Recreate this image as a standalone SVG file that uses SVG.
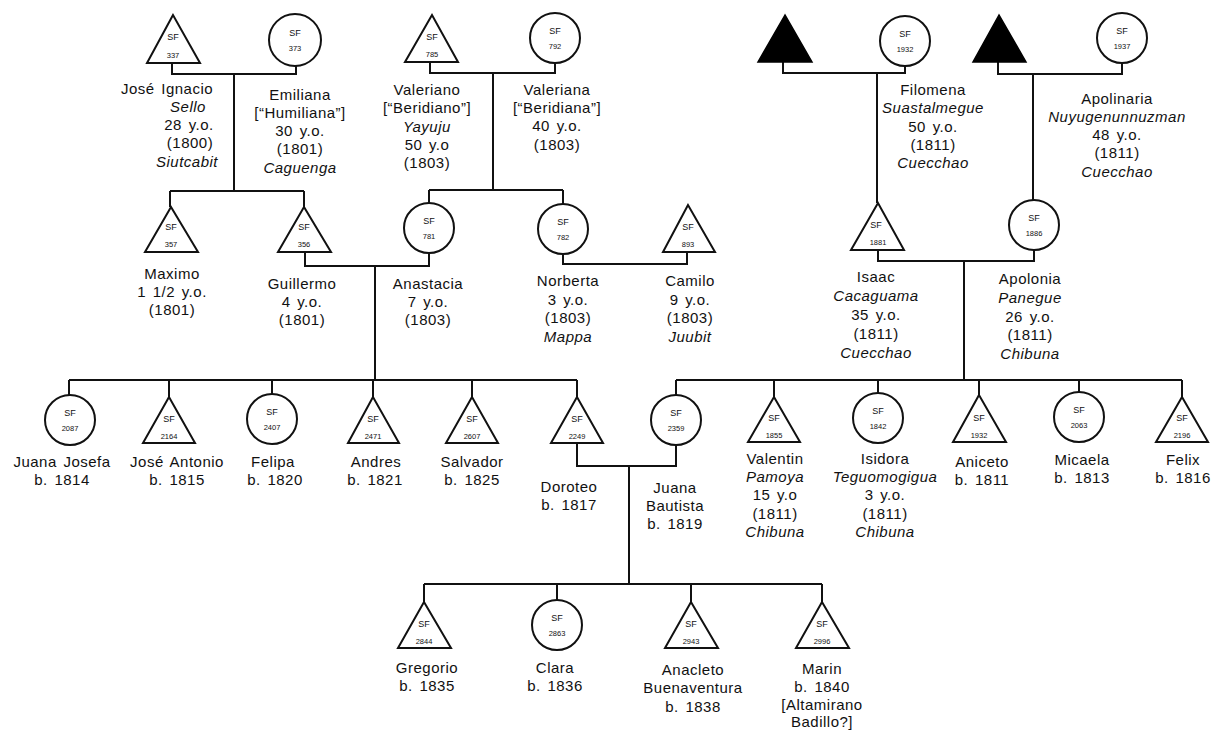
<svg xmlns="http://www.w3.org/2000/svg" width="1214" height="731" viewBox="0 0 1214 731">
<style>
.bg{fill:#fff}
.sh{fill:#fff;stroke:#111;stroke-width:2}
.bk{fill:#000;stroke:#000;stroke-width:1.5}
.ln{fill:none;stroke:#111;stroke-width:2}
text{font-family:"Liberation Sans",Arial,sans-serif;fill:#111;text-anchor:middle}
.t{font-size:15px;letter-spacing:0.5px;word-spacing:2px}
.i{font-style:italic}
.s{font-size:9px}
.n{font-size:7.5px}
</style>
<rect class="bg" x="0" y="0" width="1214" height="731"/>
<g id="connectors">
<path class="ln" d="M172,63 V74 H296 V66 M234,74 V191 M170,191 H304 M170,191 V207 M304,191 V207"/>
<path class="ln" d="M430,62 V73 H555 V63 M493,73 V190 M429,190 H563 M429,190 V203 M563,190 V204"/>
<path class="ln" d="M783,62 V73 H905 V66 M877,73 V203"/>
<path class="ln" d="M998,62 V74 H1122 V63 M1033,74 V200"/>
<path class="ln" d="M305,252 V266 H429 V253 M375,266 V380"/>
<path class="ln" d="M563,254 V264 H687 V252"/>
<path class="ln" d="M878,250 V261 H1034 V250 M964,261 V380"/>
<path class="ln" d="M69,380 H577 M69,380 V395 M169,380 V397 M272,380 V394 M373,380 V397 M472,380 V397 M577,380 V397"/>
<path class="ln" d="M676,380 H1182 M676,380 V395 M774,380 V397 M878,380 V393 M979,380 V395 M1079,380 V392 M1182,380 V397"/>
<path class="ln" d="M577,443 V466 H676 V445 M629,466 V584"/>
<path class="ln" d="M424,584 H822 M424,584 V602 M557,584 V600 M691,584 V602 M822,584 V602"/>
</g>
<g id="n337"><polygon class="sh" points="173,15 147,63 200,63"/><text class="s" x="173" y="40">SF</text><text class="n" x="173" y="58">337</text>
<text class="t"><tspan x="167" y="94">José Ignacio</tspan><tspan x="188" y="112" class="i">Sello</tspan><tspan x="189" y="130">28 y.o.</tspan><tspan x="190" y="148">(1800)</tspan><tspan x="187" y="167" class="i">Siutcabit</tspan></text></g>
<g id="n373"><circle class="sh" cx="295" cy="40" r="26"/><text class="s" x="295" y="36">SF</text><text class="n" x="295" y="51">373</text>
<text class="t"><tspan x="300" y="100">Emiliana</tspan><tspan x="300" y="118">[“Humiliana”]</tspan><tspan x="300" y="136">30 y.o.</tspan><tspan x="300" y="154">(1801)</tspan><tspan x="300" y="173" class="i">Caguenga</tspan></text></g>
<g id="n785"><polygon class="sh" points="432,15 405,62 458,62"/><text class="s" x="432" y="40">SF</text><text class="n" x="432" y="57">785</text>
<text class="t"><tspan x="427" y="95">Valeriano</tspan><tspan x="427" y="113">[“Beridiano”]</tspan><tspan x="427" y="132" class="i">Yayuju</tspan><tspan x="427" y="150">50 y.o</tspan><tspan x="427" y="168">(1803)</tspan></text></g>
<g id="n792"><circle class="sh" cx="555" cy="38" r="25"/><text class="s" x="555" y="34">SF</text><text class="n" x="555" y="49">792</text>
<text class="t"><tspan x="557" y="95">Valeriana</tspan><tspan x="557" y="113">[“Beridiana”]</tspan><tspan x="557" y="131">40 y.o.</tspan><tspan x="557" y="150">(1803)</tspan></text></g>
<g id="nblackL"><polygon class="bk" points="785,15 758,62 812,62"/></g>
<g id="n1932"><circle class="sh" cx="905" cy="41" r="25"/><text class="s" x="905" y="37">SF</text><text class="n" x="905" y="52">1932</text>
<text class="t"><tspan x="933" y="95">Filomena</tspan><tspan x="933" y="113" class="i">Suastalmegue</tspan><tspan x="933" y="132">50 y.o.</tspan><tspan x="933" y="150">(1811)</tspan><tspan x="933" y="168" class="i">Cuecchao</tspan></text></g>
<g id="nblackR"><polygon class="bk" points="999,15 973,62 1026,62"/></g>
<g id="n1937"><circle class="sh" cx="1122" cy="38" r="25"/><text class="s" x="1122" y="34">SF</text><text class="n" x="1122" y="49">1937</text>
<text class="t"><tspan x="1117" y="104">Apolinaria</tspan><tspan x="1117" y="122" class="i">Nuyugenunnuzman</tspan><tspan x="1117" y="140">48 y.o.</tspan><tspan x="1117" y="158">(1811)</tspan><tspan x="1117" y="177" class="i">Cuecchao</tspan></text></g>
<g id="n357"><polygon class="sh" points="171,207 145,252 198,252"/><text class="s" x="171" y="230">SF</text><text class="n" x="171" y="247">357</text>
<text class="t"><tspan x="172" y="279">Maximo</tspan><tspan x="172" y="297">1 1/2 y.o.</tspan><tspan x="172" y="315">(1801)</tspan></text></g>
<g id="n356"><polygon class="sh" points="304,207 278,252 331,252"/><text class="s" x="304" y="230">SF</text><text class="n" x="304" y="247">356</text>
<text class="t"><tspan x="302" y="289">Guillermo</tspan><tspan x="302" y="307">4 y.o.</tspan><tspan x="302" y="325">(1801)</tspan></text></g>
<g id="n781"><circle class="sh" cx="429" cy="228" r="25"/><text class="s" x="429" y="224">SF</text><text class="n" x="429" y="239">781</text>
<text class="t"><tspan x="428" y="289">Anastacia</tspan><tspan x="428" y="307">7 y.o.</tspan><tspan x="428" y="325">(1803)</tspan></text></g>
<g id="n782"><circle class="sh" cx="563" cy="229" r="25"/><text class="s" x="563" y="225">SF</text><text class="n" x="563" y="240">782</text>
<text class="t"><tspan x="568" y="286">Norberta</tspan><tspan x="568" y="305">3 y.o.</tspan><tspan x="568" y="323">(1803)</tspan><tspan x="568" y="342" class="i">Mappa</tspan></text></g>
<g id="n893"><polygon class="sh" points="688,205 663,252 715,252"/><text class="s" x="688" y="230">SF</text><text class="n" x="688" y="247">893</text>
<text class="t"><tspan x="690" y="286">Camilo</tspan><tspan x="690" y="305">9 y.o.</tspan><tspan x="690" y="323">(1803)</tspan><tspan x="690" y="342" class="i">Juubit</tspan></text></g>
<g id="n1881"><polygon class="sh" points="878,203 851,250 904,250"/><text class="s" x="876" y="228">SF</text><text class="n" x="878" y="245">1881</text>
<text class="t"><tspan x="876" y="282">Isaac</tspan><tspan x="876" y="301" class="i">Cacaguama</tspan><tspan x="876" y="320">35 y.o.</tspan><tspan x="876" y="339">(1811)</tspan><tspan x="876" y="358" class="i">Cuecchao</tspan></text></g>
<g id="n1886"><circle class="sh" cx="1034" cy="225" r="25"/><text class="s" x="1034" y="221">SF</text><text class="n" x="1034" y="236">1886</text>
<text class="t"><tspan x="1030" y="284">Apolonia</tspan><tspan x="1030" y="303" class="i">Panegue</tspan><tspan x="1030" y="322">26 y.o.</tspan><tspan x="1030" y="340">(1811)</tspan><tspan x="1030" y="359" class="i">Chibuna</tspan></text></g>
<g id="n2087"><circle class="sh" cx="70" cy="420" r="25"/><text class="s" x="70" y="416">SF</text><text class="n" x="70" y="431">2087</text>
<text class="t"><tspan x="62" y="467">Juana Josefa</tspan><tspan x="62" y="485">b. 1814</tspan></text></g>
<g id="n2164"><polygon class="sh" points="169,397 143,443 195,443"/><text class="s" x="169" y="422">SF</text><text class="n" x="169" y="439">2164</text>
<text class="t"><tspan x="177" y="467">José Antonio</tspan><tspan x="177" y="485">b. 1815</tspan></text></g>
<g id="n2407"><circle class="sh" cx="272" cy="419" r="25"/><text class="s" x="272" y="415">SF</text><text class="n" x="272" y="430">2407</text>
<text class="t"><tspan x="273" y="467">Felipa</tspan><tspan x="275" y="485">b. 1820</tspan></text></g>
<g id="n2471"><polygon class="sh" points="373,397 348,443 399,443"/><text class="s" x="373" y="422">SF</text><text class="n" x="373" y="439">2471</text>
<text class="t"><tspan x="376" y="467">Andres</tspan><tspan x="375" y="485">b. 1821</tspan></text></g>
<g id="n2607"><polygon class="sh" points="472,397 446,443 498,443"/><text class="s" x="472" y="422">SF</text><text class="n" x="472" y="439">2607</text>
<text class="t"><tspan x="472" y="467">Salvador</tspan><tspan x="472" y="485">b. 1825</tspan></text></g>
<g id="n2249"><polygon class="sh" points="577,397 551,443 603,443"/><text class="s" x="577" y="422">SF</text><text class="n" x="577" y="439">2249</text>
<text class="t"><tspan x="569" y="492">Doroteo</tspan><tspan x="569" y="510">b. 1817</tspan></text></g>
<g id="n2359"><circle class="sh" cx="676" cy="420" r="25"/><text class="s" x="676" y="416">SF</text><text class="n" x="676" y="431">2359</text>
<text class="t"><tspan x="675" y="493">Juana</tspan><tspan x="675" y="511">Bautista</tspan><tspan x="675" y="529">b. 1819</tspan></text></g>
<g id="n1855"><polygon class="sh" points="774,397 748,442 800,442"/><text class="s" x="774" y="421">SF</text><text class="n" x="774" y="438">1855</text>
<text class="t"><tspan x="775" y="464">Valentin</tspan><tspan x="775" y="482" class="i">Pamoya</tspan><tspan x="775" y="500">15 y.o</tspan><tspan x="775" y="519">(1811)</tspan><tspan x="775" y="537" class="i">Chibuna</tspan></text></g>
<g id="n1842"><circle class="sh" cx="878" cy="418" r="25"/><text class="s" x="878" y="414">SF</text><text class="n" x="878" y="429">1842</text>
<text class="t"><tspan x="885" y="464">Isidora</tspan><tspan x="885" y="482" class="i">Teguomogigua</tspan><tspan x="885" y="500">3 y.o.</tspan><tspan x="885" y="519">(1811)</tspan><tspan x="885" y="537" class="i">Chibuna</tspan></text></g>
<g id="n1932b"><polygon class="sh" points="979,395 953,442 1006,442"/><text class="s" x="979" y="421">SF</text><text class="n" x="979" y="438">1932</text>
<text class="t"><tspan x="982" y="467">Aniceto</tspan><tspan x="982" y="485">b. 1811</tspan></text></g>
<g id="n2063"><circle class="sh" cx="1079" cy="417" r="25"/><text class="s" x="1079" y="413">SF</text><text class="n" x="1079" y="428">2063</text>
<text class="t"><tspan x="1082" y="465">Micaela</tspan><tspan x="1082" y="483">b. 1813</tspan></text></g>
<g id="n2196"><polygon class="sh" points="1182,397 1156,442 1208,442"/><text class="s" x="1182" y="421">SF</text><text class="n" x="1182" y="438">2196</text>
<text class="t"><tspan x="1183" y="465">Felix</tspan><tspan x="1183" y="483">b. 1816</tspan></text></g>
<g id="n2844"><polygon class="sh" points="424,602 398,648 451,648"/><text class="s" x="424" y="627">SF</text><text class="n" x="424" y="644">2844</text>
<text class="t"><tspan x="427" y="673">Gregorio</tspan><tspan x="427" y="691">b. 1835</tspan></text></g>
<g id="n2863"><circle class="sh" cx="557" cy="625" r="25"/><text class="s" x="557" y="621">SF</text><text class="n" x="557" y="636">2863</text>
<text class="t"><tspan x="555" y="673">Clara</tspan><tspan x="555" y="691">b. 1836</tspan></text></g>
<g id="n2943"><polygon class="sh" points="691,602 665,648 718,648"/><text class="s" x="691" y="627">SF</text><text class="n" x="691" y="644">2943</text>
<text class="t"><tspan x="693" y="675">Anacleto</tspan><tspan x="693" y="693">Buenaventura</tspan><tspan x="693" y="712">b. 1838</tspan></text></g>
<g id="n2996"><polygon class="sh" points="822,602 796,648 849,648"/><text class="s" x="822" y="627">SF</text><text class="n" x="822" y="644">2996</text>
<text class="t"><tspan x="822" y="674">Marin</tspan><tspan x="822" y="692">b. 1840</tspan><tspan x="822" y="710">[Altamirano</tspan><tspan x="822" y="727">Badillo?]</tspan></text></g>
</svg>
